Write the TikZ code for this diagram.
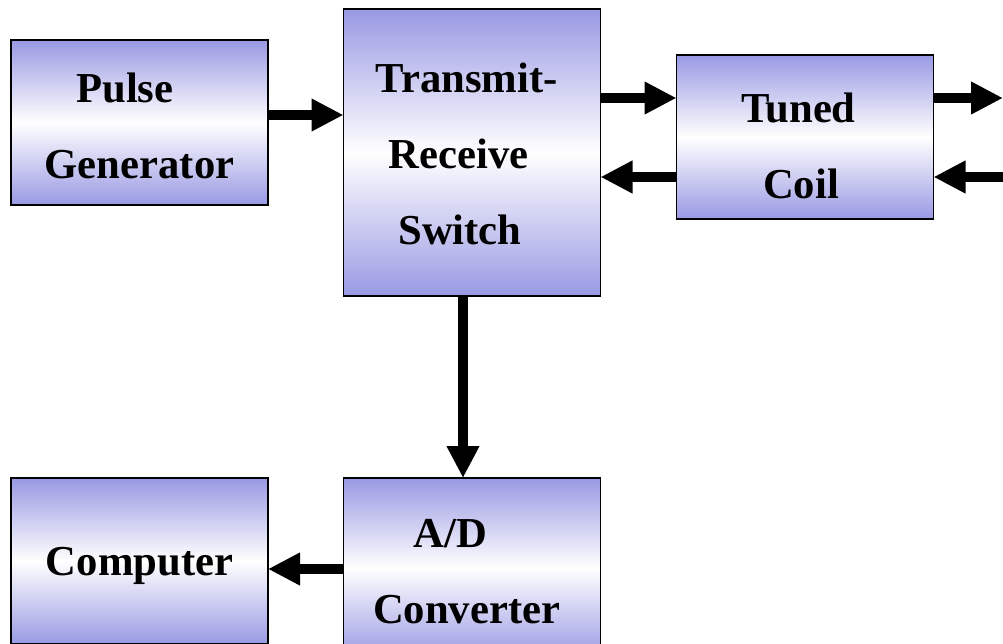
\documentclass[tikz,border=0pt]{standalone}
\usepackage{fontspec}
\setmainfont{Liberation Serif}
\usetikzlibrary{arrows.meta}
\definecolor{boxblue}{RGB}{153,153,228}
\newcommand{\downby}[1]{\rule{0pt}{#1}}
\begin{document}
\begin{tikzpicture}[x=0.75pt,y=-0.75pt,
  blockbox/.style={draw=black, line width=1pt, top color=boxblue, bottom color=boxblue,
    middle color=white, inner sep=0pt, outer sep=0pt, align=center,
    minimum width=192.75pt, font=\fontsize{32pt}{57pt}\selectfont\bfseries},
  bigarrow/.style={line width=7pt, -{Triangle[length=24pt,width=23pt]}}]
\useasboundingbox (0,0) rectangle (1003,643);
\node[blockbox, minimum height=123.75pt] (pg) at (139.5,122.5) {\downby{28pt}\hspace*{-22pt}Pulse\\Generator};
\node[blockbox, minimum height=215.25pt] (tr) at (472,152.5) {\downby{25pt}\hspace*{-8pt}Transmit-\\\hspace*{-20pt}Receive\\\hspace*{-18pt}Switch};
\node[blockbox, minimum height=123pt] (tc) at (805,137) {\downby{36pt}\hspace*{-10pt}Tuned\\\hspace*{-6pt}Coil};
\node[blockbox, minimum height=124.5pt] (comp) at (139.5,561) {\downby{28pt}Computer};
\node[blockbox, minimum height=135pt] (ad) at (472,568) {\downby{26pt}\hspace*{-32pt}A/D\\\hspace*{-8pt}Converter};
\coordinate (y115) at (0,115);
\coordinate (y98) at (1003,98);
\coordinate (y177) at (1003,177);
\coordinate (x463) at (463,0);
\coordinate (y569) at (0,569);
\draw[bigarrow] (pg.east |- y115) -- (tr.west |- y115);
\draw[bigarrow] (tr.east |- y98) -- (tc.west |- y98);
\draw[bigarrow] (tc.west |- y177) -- (tr.east |- y177);
\draw[bigarrow] (tc.east |- y98) -- (y98);
\draw[bigarrow] (y177) -- (tc.east |- y177);
\draw[bigarrow] (tr.south -| x463) -- (ad.north -| x463);
\draw[bigarrow] (ad.west |- y569) -- (comp.east |- y569);
\end{tikzpicture}
\end{document}
